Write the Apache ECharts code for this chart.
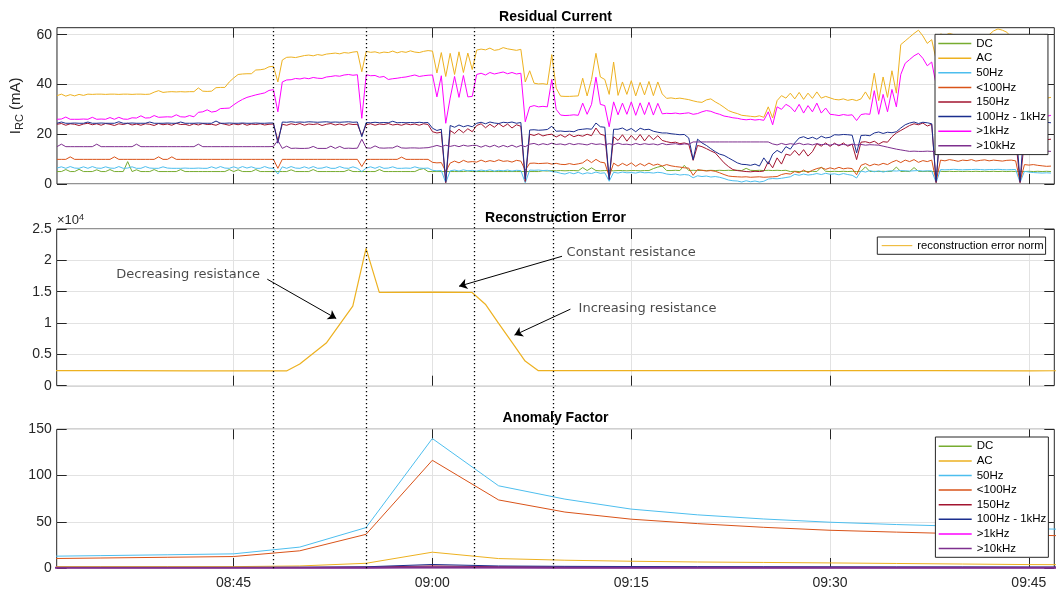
<!DOCTYPE html>
<html>
<head>
<meta charset="utf-8">
<title>Residual Current / Reconstruction Error / Anomaly Factor</title>
<script src="https://cdn.jsdelivr.net/npm/echarts@6.0.0/dist/echarts.min.js"></script>
<style>
  html, body { margin: 0; padding: 0; background: #fff; }
  #chart { width: 1062px; height: 590px; }
</style>
</head>
<body>
<div id="chart"></div>
<script>
// ---------------------------------------------------------------------------
// Data
// ---------------------------------------------------------------------------
const T_START = '08:31:40';          // visible time range
const T_END = '09:46:55';
const RC_START = '08:31:40';         // residual current logger: one sample every 20 s
const RC_STEP_S = 20;

const xTickTimes = ['08:45', '09:00', '09:15', '09:30', '09:45'];
const rcTicks = [0, 20, 40, 60];
const errTicks = [0, 5000, 10000, 15000, 20000, 25000];
const afTicks = [0, 50, 100, 150];

// moments marked by the dotted vertical lines
const eventTimes = ['08:48:00', '08:55:00', '09:03:10', '09:09:08'];

// Residual current per band (mA)
const rcDC = [
  5.0, 5.0, 5.8, 5.0, 5.0, 5.9, 5.0, 5.0, 5.0, 5.7,
  5.0, 5.0, 5.8, 5.0, 5.0, 5.0, 9.0, 5.0, 5.7, 5.0,
  5.0, 5.0, 5.8, 5.0, 5.0, 5.0, 5.0, 5.0, 5.8, 5.0,
  5.0, 5.0, 5.0, 5.0, 5.0, 5.0, 5.0, 5.0, 5.0, 5.8,
  5.0, 5.7, 5.0, 5.0, 5.0, 5.8, 5.0, 5.0, 5.0, 5.0,
  5.0, 5.0, 5.0, 5.7, 5.0, 5.0, 5.0, 5.0, 5.8, 5.0,
  5.0, 5.0, 5.0, 5.0, 5.0, 5.0, 5.7, 5.0, 5.0, 5.0,
  5.0, 5.0, 5.0, 5.8, 5.0, 5.0, 5.0, 5.0, 5.0, 5.0,
  5.0, 5.0, 5.8, 6.2, 5.0, 5.0, 5.0, 5.0, 5.0, 5.0,
  5.0, 5.0, 5.0, 5.2, 5.0, 5.0, 5.0, 5.0, 5.0, 5.0,
  5.0, 5.0, 5.0, 5.0, 5.0, 5.0, 5.0, 5.0, 5.0, 5.0,
  5.3, 5.2, 5.4, 5.3, 5.4, 5.3, 5.4, 5.4, 5.3, 6.6,
  5.4, 6.5, 5.4, 5.3, 5.4, 5.4, 5.3, 5.4, 5.4, 5.3,
  5.4, 5.4, 5.3, 5.4, 5.4, 6.2, 6.8, 7.2, 5.4, 5.4,
  5.5, 5.4, 7.5, 5.4, 5.5, 5.4, 5.5, 5.4, 5.5, 5.4,
  5.5, 5.4, 5.5, 5.4, 5.5, 5.4, 6.3, 5.5, 5.4, 5.5,
  5.4, 5.5, 5.4, 5.5, 5.4, 5.5, 5.0, 5.1, 5.0, 5.1,
  5.0, 5.1, 5.0, 6.8, 5.1, 5.0, 5.1, 5.0, 5.1, 5.0,
  5.1, 5.0, 5.1, 6.9, 5.0, 5.1, 5.0, 5.1, 5.0, 5.1,
  6.8, 5.0, 5.1, 5.0, 6.6, 5.1, 5.0, 5.1, 5.0, 5.1,
  5.1, 5.0, 5.1, 5.0, 5.1, 5.0, 5.1, 5.0, 5.1, 5.0,
  5.1, 5.0, 5.1, 5.0, 5.1, 5.0, 5.1, 5.0, 5.1, 5.0,
  5.1, 5.0, 5.1, 5.0, 5.1, 5.0
];
const rcAC = [
  35.5, 36.1, 35.3, 35.9, 35.4, 36.0, 35.6, 36.1,
  36.0, 36.1, 36.1, 36.0, 36.1, 36.1, 36.0, 36.1, 36.1, 36.0, 36.1, 36.1, 36.0, 36.1,
  36.9, 37.5, 36.8,
  37.0, 37.1, 37.0, 37.1, 37.0, 37.1, 37.1,
  38.6,
  37.3, 37.2, 37.3,
  38.7, 38.8, 38.8,
  41.0, 42.6,
  44.0, 44.2, 44.3, 44.3,
  45.8, 45.9, 46.2,
  47.1, 47.3,
  41.0,
  49.8,
  50.9, 51.0, 50.8, 51.2,
  51.6, 51.8, 51.5, 52.0, 51.7, 52.2,
  52.4, 52.6, 52.3, 52.8, 52.6, 53.0, 53.2,
  45.1,
  53.3, 52.9, 53.1, 52.6, 53.0, 52.8, 53.4, 52.7, 53.2, 52.9, 53.5, 53.0, 52.8, 53.3, 53.6,
  53.4, 44.6, 52.8, 43.2, 52.5, 44.0, 53.1, 44.8, 52.6,
  46.0,
  53.8, 54.2, 53.9, 54.6, 53.7, 54.0, 54.8, 54.3, 54.0, 53.7, 54.1,
  41.0, 45.5, 40.5, 40.2, 40.3, 40.0,
  52.0, 38.5, 35.3, 35.2, 35.2, 35.3, 35.4,
  42.5, 35.4, 42.0,
  52.5, 43.0, 42.0, 36.0, 49.0,
  35.6, 41.0, 36.0, 41.5, 35.4, 40.8, 35.8, 41.2, 35.5, 41.0, 36.2,
  34.4, 34.6, 34.3, 34.5, 34.2,
  33.9, 33.4, 33.0,
  32.8, 33.8, 34.2, 33.0, 32.0,
  30.8, 29.5, 28.8, 28.3, 27.6,
  27.4, 27.2, 27.0, 27.4, 26.8,
  31.0, 26.5, 33.5, 35.5,
  34.5, 36.5,
  34.2, 36.8, 34.0, 36.5, 34.4, 37.0, 34.5, 35.2, 34.6,
  34.0, 33.8, 34.2, 33.6, 34.0, 33.5, 34.2, 37.0,
  34.0,
  44.5, 33.5, 43.0, 34.8, 45.5, 36.5,
  56.0,
  57.5, 59.0, 60.5, 61.8, 59.5, 56.5, 58.0,
  50.0,
  60.3, 59.8, 60.5, 60.0, 59.5, 58.5,
  57.0, 58.5, 57.5, 59.0, 58.0, 60.0,
  61.5, 62.3, 61.8, 61.0,
  59.0, 58.5, 50.0, 57.5, 56.0, 48.0, 40.0,
  35.0, 34.5, 34.8
];
const rc50Hz = [
  6.4, 6.9, 6.3, 7.0, 6.4, 6.3, 6.9, 6.3, 7.0, 6.4,
  6.3, 6.9, 6.4, 6.3, 7.0, 6.3, 6.4, 6.9, 6.3, 6.3,
  7.0, 6.4, 6.3, 6.3, 6.9, 6.4, 6.3, 6.3, 6.3, 6.4,
  6.3, 6.3, 6.4, 6.3, 6.3, 6.9, 6.3, 7.0, 6.4, 6.3,
  6.9, 6.3, 7.0, 6.4, 6.9, 6.3, 6.3, 7.0, 6.4, 6.3,
  4.0,
  6.9, 6.3, 7.0, 6.4, 6.3, 6.9, 6.3, 7.0, 6.3, 6.4, 6.9, 6.3, 6.3, 7.0, 6.4, 6.3, 6.9, 6.3,
  5.0,
  6.4, 6.9, 6.3, 7.0, 6.3, 6.4, 6.9, 6.3, 6.3, 6.4, 6.3, 6.9, 6.4, 6.3, 6.4,
  5.5, 5.3, 5.4,
  0.5,
  5.3, 5.6, 5.2, 5.7, 5.3, 5.5, 5.2, 5.6, 5.3, 5.7, 5.2, 5.5, 5.3, 5.6, 5.2, 5.5, 5.4,
  0.5,
  5.6, 5.5, 5.6, 5.4, 5.5,
  5.0, 4.8, 4.3, 4.0, 4.6, 4.1, 4.7, 4.0, 4.5, 4.2, 4.8, 4.3, 4.5,
  1.1,
  4.7, 4.4, 4.8, 4.5, 4.6, 4.4, 4.8, 4.5, 4.6, 4.4, 4.7, 4.5,
  4.0, 3.8, 4.0, 3.6, 3.8, 3.6,
  2.5,
  3.3, 3.0, 3.2, 2.8, 3.0, 2.7,
  2.2, 1.6, 1.3,
  1.2, 0.8, 1.3, 0.9, 1.2, 0.8, 1.1,
  2.0, 2.2, 2.1, 2.3,
  2.6, 2.9,
  3.9, 3.5, 4.0, 3.6, 3.8, 4.2, 3.8, 4.3, 3.9,
  4.1, 3.7, 4.2, 3.8, 3.5,
  2.4,
  5.2, 4.8, 5.4, 4.9, 5.3, 4.8, 5.2,
  5.3, 5.2, 5.4, 5.3, 5.2, 5.3, 5.4, 5.2, 5.3, 5.3,
  0.6,
  5.8, 5.7, 5.8, 5.9, 5.8, 5.7, 5.8, 5.8, 5.9, 5.8, 5.7, 5.8, 5.8, 5.9, 5.8, 5.7, 5.8, 5.8,
  0.6,
  5.1, 4.8, 4.6, 4.5, 4.4, 4.5, 4.4
];
const rcBelow100Hz = [
  9.9, 9.9, 9.9, 10.9, 9.9, 9.9, 9.9, 9.9, 9.9, 9.9,
  9.9, 9.9, 9.9, 10.9, 9.9, 9.9, 9.9, 9.9, 9.9, 9.9,
  9.9, 9.9, 9.9, 10.9, 9.9, 9.9, 10.9, 9.9, 9.9, 9.9,
  9.9, 9.9, 9.9, 9.9, 9.9, 9.9, 9.9, 9.9, 9.9, 9.9,
  9.9, 9.9, 9.9, 9.9, 9.9, 9.9, 9.9, 9.9, 9.9, 9.9,
  6.3,
  9.9, 9.9, 9.9, 9.9, 9.9, 9.9, 9.9, 9.9, 9.9, 9.9, 9.9, 9.9, 9.9, 9.9, 9.9, 9.9, 9.9, 9.9,
  7.0,
  9.9, 9.9, 9.9, 9.9, 9.9, 9.9, 9.9, 9.9, 10.8, 9.9, 9.9, 9.9, 9.9, 9.9, 9.9,
  8.7, 8.5, 8.6,
  5.0,
  8.4, 9.2, 8.5, 9.5, 8.8, 9.0,
  8.8, 9.6, 8.9, 9.4, 9.0, 9.7, 9.1, 9.3, 8.8, 9.5, 9.2,
  5.5,
  8.3, 8.4, 8.2, 8.3, 8.4,
  8.0, 8.3, 7.9, 7.8, 8.2, 7.8, 8.1,
  8.5, 9.8, 8.6, 9.9, 8.8, 8.5,
  3.0,
  8.4, 7.2, 8.3, 7.4, 8.5, 7.1, 8.2, 7.3, 8.4, 7.5, 8.0, 7.2,
  7.8, 7.3, 7.0, 6.8, 6.5, 6.4,
  3.5,
  5.8, 5.5, 5.2, 5.4, 5.1, 4.5,
  3.8, 3.2, 3.0,
  2.9, 2.8, 2.9, 2.7, 2.8, 2.9, 2.7, 2.8, 2.9, 3.0,
  3.8, 4.2, 4.0,
  5.0, 4.5, 5.6, 4.6, 5.5,
  6.2, 6.6, 5.9, 6.5, 6.0, 6.7, 6.1, 6.4, 6.2,
  3.7,
  7.5, 8.2, 7.3, 8.0, 7.6, 8.3, 7.8,
  8.8, 9.5, 8.6, 9.6, 9.0, 9.8, 8.7, 9.4, 9.0, 9.6,
  1.0,
  9.6, 9.3, 9.8, 9.5, 9.1, 9.6, 9.4, 9.8, 9.2, 9.5, 9.7, 9.3, 9.6, 9.4, 9.2, 9.5, 9.6, 9.3,
  1.0,
  7.8, 7.6, 7.8, 7.5, 7.3, 7.1, 7.2
];
const rc150Hz = [
  24.0, 24.3, 23.6, 24.2, 24.0, 23.5, 24.1, 24.4, 23.8, 24.2,
  23.6, 24.3, 24.0, 23.5, 24.2, 23.9, 24.4, 23.7, 24.1, 23.6,
  24.2, 24.0, 23.5, 24.3, 23.8, 24.1, 23.6, 24.4, 23.9, 24.0,
  23.5, 24.2, 23.7, 24.3, 23.9, 24.0, 23.6, 24.4, 24.0, 23.6,
  24.2, 23.8, 24.3, 23.6, 24.1, 23.9, 24.2, 23.7, 24.0, 24.1,
  17.5,
  24.0, 23.6, 24.2, 23.8, 24.3, 23.6, 24.1, 23.9, 24.2, 23.5, 24.0, 24.3, 23.7, 24.1, 23.6, 24.2, 23.9, 24.0,
  19.5,
  23.8, 24.2, 23.6, 24.1, 23.9, 24.3, 23.7, 24.0, 23.6, 24.2, 23.8, 24.1, 23.6, 24.2, 23.9,
  21.0, 20.5, 20.8,
  0.5,
  21.5, 20.3, 22.0, 20.6, 22.2, 21.0,
  23.5, 24.2, 22.6, 24.0, 22.8, 24.3, 23.0, 24.1, 22.5, 23.8, 23.2,
  1.0,
  20.0, 19.5, 20.2, 19.3, 19.8,
  20.0, 18.9, 19.8, 18.8, 20.0, 19.0, 19.6,
  19.2, 20.0, 19.4,
  22.5, 20.0, 19.5, 2.0, 19.0,
  17.5, 19.8, 17.2, 19.5, 17.6, 19.9, 17.3, 19.6, 17.8, 19.4, 17.5,
  17.0, 16.6, 16.8, 16.2, 16.5,
  16.0, 9.5, 15.5, 15.0, 14.2, 13.3,
  12.5, 10.5, 8.5, 7.0,
  5.8, 5.4, 5.2, 5.0, 4.9, 5.1, 5.0, 5.2,
  9.0, 6.5, 10.5, 8.0,
  12.0, 11.5,
  13.5, 11.5, 13.8, 11.2, 13.0,
  16.2, 15.2, 16.5, 15.1, 16.4, 15.3, 16.5, 15.2, 16.0,
  9.8,
  16.8, 17.0, 16.5, 17.2, 16.0, 17.0, 16.8,
  19.0, 20.5, 21.5, 22.5,
  23.5, 24.2, 23.8, 24.5, 23.3, 24.0,
  0.5,
  23.5, 24.0, 23.6, 23.8, 24.1, 23.4, 23.0, 22.5, 22.0, 21.0, 20.5, 20.0, 19.5, 19.0, 18.5, 18.2, 18.0, 18.3,
  0.5,
  17.8, 18.0, 17.7, 18.2, 17.9, 17.8, 18.0
];
const rc100Hzto1kHz = [
  24.4, 24.9, 24.4, 24.4, 24.5, 24.4, 24.4, 24.9, 24.4, 24.4,
  24.5, 24.4, 24.4, 24.4, 25.0, 24.4, 24.4, 24.5, 24.4, 24.4,
  24.4, 24.9, 24.4, 24.4, 24.4, 24.5, 24.4, 24.4, 24.9, 24.4,
  24.4, 24.4, 24.5, 24.4, 24.4, 24.4, 25.3, 24.4, 24.4, 24.5,
  24.4, 24.4, 24.5, 24.4, 24.4, 24.5, 24.4, 24.4, 24.5, 24.5,
  16.4,
  24.9, 24.8, 25.0, 24.8, 24.9, 24.8, 25.0, 24.9, 24.8, 24.9, 25.0, 24.8, 24.9, 24.8, 24.9, 25.0, 24.8, 24.9,
  19.0,
  24.7, 24.6, 24.8, 24.6, 24.7, 24.6, 25.2, 24.6, 24.7, 24.6, 24.7, 24.6, 24.8, 24.6, 24.7,
  22.4, 21.5, 22.0,
  1.0,
  23.5, 22.8, 23.7, 23.0, 23.5, 23.0,
  24.4, 24.8, 24.2, 24.9, 24.5, 24.3, 24.8, 24.6, 24.9, 24.4, 24.7,
  2.0,
  21.7, 21.8, 21.6, 21.7, 21.9,
  23.2, 21.2, 21.3, 21.1, 21.2, 21.0,
  21.8, 22.0, 22.2, 22.0,
  24.5, 23.0, 22.8, 1.7, 22.0,
  22.0, 22.5, 21.5, 22.3, 21.0, 22.4, 21.8, 22.0, 21.2, 20.8, 20.5,
  20.5, 20.2, 20.0, 19.8, 19.9,
  18.5, 9.8, 18.0, 16.5,
  15.5, 14.2, 13.0, 12.0,
  11.5, 10.5, 9.5, 8.5, 7.9,
  7.8, 7.5, 8.0, 7.2,
  10.5, 8.0, 12.0, 13.5, 12.5,
  15.0, 14.0,
  16.5, 18.5, 19.0, 18.2, 18.8, 18.0, 19.2, 18.5, 18.8,
  19.8, 19.7, 19.9, 19.8, 19.6,
  12.5,
  19.5, 19.6, 19.4,
  20.5, 20.9, 20.3, 20.8, 20.6, 21.0,
  22.5, 23.8,
  24.5, 24.9, 24.3, 24.8, 24.6, 24.2,
  1.0,
  24.6, 24.8, 24.5, 24.9, 24.7, 24.5, 24.8, 24.6, 25.0, 24.7, 24.5, 24.9, 24.6, 24.8, 24.5, 24.7, 24.9, 24.6,
  1.0,
  24.5, 24.8, 24.6, 24.9, 24.7, 24.8, 24.6
];
const rcAbove1kHz = [
  26.0, 26.1, 26.9, 26.0, 26.0, 26.0, 26.1, 26.0, 26.8, 26.0, 26.1, 26.0, 26.7, 26.0, 26.8, 26.1, 26.0,
  26.6, 26.5, 27.4, 26.5, 26.6, 27.5,
  26.8, 26.9, 27.0, 26.9, 27.8, 27.0, 26.9, 27.5, 27.0,
  28.8, 29.0, 29.8, 28.9, 29.2,
  30.3, 30.4, 30.5,
  31.8, 33.0, 34.0,
  34.8, 35.3, 35.8, 36.2, 36.6,
  37.6, 37.9,
  29.0,
  41.0, 41.8, 41.9,
  42.4, 42.2, 42.6, 42.3, 42.8, 42.5, 42.4,
  43.0, 43.2, 43.5, 43.3, 43.8, 44.0, 43.7, 43.9,
  26.4,
  43.9, 43.5, 43.6, 42.9, 43.2, 42.0, 42.3, 42.5, 42.8, 43.0, 43.4, 43.8, 43.2, 43.5, 43.7,
  43.8, 35.0, 43.5, 24.4, 34.5, 43.2, 34.8, 43.6, 35.0,
  35.2,
  44.0, 44.5, 43.8, 44.8, 44.2, 44.6, 45.0, 44.3, 44.8, 44.2, 44.5,
  25.0,
  31.0, 31.5, 31.0, 31.2, 31.0,
  42.0, 30.0,
  27.7, 27.5, 27.6, 27.8, 27.6,
  32.5, 28.0, 32.0,
  42.9, 32.0, 31.5, 23.0, 33.0,
  27.8, 32.5, 28.0, 33.0, 27.6, 32.6, 27.9, 32.8, 27.7, 32.4, 28.2,
  28.4, 28.3, 28.5, 28.2, 28.4,
  28.6, 28.0, 28.3, 29.0, 29.5, 29.2, 28.5, 28.0,
  27.3, 27.0, 26.6, 26.4, 26.0, 25.8, 26.0, 25.7, 25.9, 25.6,
  29.0, 23.8, 31.0, 30.0, 32.0, 31.0,
  29.0, 32.0, 28.5, 31.5, 29.0, 32.5, 28.5, 30.5, 28.0,
  27.8, 27.5, 27.9, 27.6, 27.8, 25.5, 27.9, 28.2,
  28.0,
  37.5, 28.0, 36.0, 29.0, 38.0, 31.0,
  44.0,
  48.5, 50.0, 51.5, 52.5, 50.5, 47.5, 49.0,
  40.0, 49.0, 50.5, 49.5, 48.0, 49.0, 47.5, 46.5, 48.0, 47.0, 48.5, 47.5,
  49.0, 50.0, 51.0, 50.5, 49.5, 48.0, 47.5, 40.0, 46.0, 45.0, 38.0, 32.0,
  27.5, 27.2, 27.6
];
const rcAbove10kHz = [
  15.0, 16.0, 15.0, 15.0, 15.0, 15.0, 15.0, 15.0, 15.0, 16.0,
  15.0, 15.0, 15.0, 15.0, 15.0, 15.0, 15.0, 15.0, 16.0, 15.0,
  15.0, 15.0, 15.0, 15.0, 15.0, 15.0, 15.0, 15.0, 15.0, 15.0,
  15.0, 15.0, 16.0, 15.0, 15.0, 15.0, 15.0, 15.0, 15.0, 15.0,
  15.0, 15.0, 15.0, 15.0, 15.0, 15.0, 15.0, 15.0, 15.0, 15.1,
  17.5,
  14.3, 15.2, 14.3, 14.4, 14.3, 14.3, 14.4, 15.1, 14.3, 14.3, 14.3, 15.2, 14.3, 15.1, 14.3, 14.4, 14.3, 14.4,
  18.0,
  14.5, 14.4, 15.3, 14.5, 14.4, 14.5, 14.5, 15.3, 14.5, 14.4, 14.5, 14.5, 14.4, 14.5, 14.6,
  15.0, 15.5, 15.0, 15.6, 15.1, 15.5, 15.0, 15.6, 15.2, 15.5,
  15.5, 14.8, 15.5, 14.9, 15.6, 14.8, 15.5, 14.9, 15.6, 14.8, 15.5,
  15.0,
  16.0, 16.3, 15.7, 16.2, 15.8, 16.4, 15.9, 16.1, 15.7, 16.3,
  15.8, 16.2, 16.0, 15.7, 16.3, 15.9, 16.1, 15.7, 16.2, 15.8,
  16.4, 15.9, 16.0, 15.7, 16.3, 15.8, 16.2, 15.9, 16.1, 15.7,
  16.3, 15.8, 16.0, 16.2, 15.8, 16.1, 16.0,
  16.9, 16.9, 16.9, 16.9, 16.9, 16.9, 16.9, 16.9, 16.9,
  16.9, 16.9, 16.9, 16.9, 16.9, 16.9, 16.9, 16.9, 16.9,
  16.1, 15.7, 16.3, 15.8, 16.2, 15.9, 16.4, 15.8, 16.1, 15.7,
  16.2, 15.8, 16.0, 15.6, 16.1, 15.7, 15.9, 15.6, 16.0, 15.7,
  15.9, 15.6, 15.8, 15.7, 15.6,
  15.2, 14.8, 14.4, 14.0, 13.7, 13.4,
  13.1, 13.2, 13.1, 13.1, 13.2, 13.1, 13.1, 13.2, 13.1, 13.1, 13.2,
  13.1, 13.1, 13.2, 13.1, 13.1, 13.2, 13.1, 13.1, 13.2, 13.1, 13.1,
  13.2, 13.1, 13.1, 13.2, 13.1, 13.1, 13.2, 13.1, 13.1, 13.2, 13.1
];

// Reconstruction error norm
const errTimes = ['08:30', '08:36', '08:42', '08:47', '08:49', '08:50', '08:52', '08:54', '08:55', '08:56',
                  '09:00', '09:03', '09:04', '09:05', '09:06', '09:07', '09:08', '09:15', '09:22', '09:30',
                  '09:38', '09:45', '09:50'];
const errNorm = [2400, 2390, 2370, 2360, 2350, 3450, 6800, 12700, 21900, 14900,
                 14930, 14880, 13000, 9950, 6950, 3930, 2390, 2390, 2420, 2410,
                 2390, 2380, 2390];

// Anomaly factor per band
const afTimes = ['08:30', '08:35', '08:40', '08:45', '08:50', '08:55', '09:00', '09:05', '09:10',
                 '09:15', '09:20', '09:25', '09:30', '09:35', '09:40', '09:45', '09:50'];
const afDC =          [0.3, 0.3, 0.3, 0.3, 0.4, 0.5, 0.9, 0.6, 0.5, 0.5, 0.4, 0.4, 0.4, 0.4, 0.3, 0.3, 0.3];
const afAC =          [1.5, 1.5, 1.5, 1.5, 2.2, 5.1, 17.1, 10.2, 8.4, 7.3, 6.5, 6.0, 5.5, 4.9, 4.3, 3.7, 3.5];
const af50Hz =        [12.5, 13.4, 14.3, 15.3, 22.6, 43.7, 140.0, 88.9, 74.5, 63.7, 57.5, 53.0, 49.5, 47.0, 45.0, 42.6, 41.2];
const afBelow100Hz =  [10.0, 10.8, 11.6, 12.4, 18.6, 36.4, 116.5, 73.6, 60.5, 52.8, 48.0, 44.0, 40.8, 38.8, 37.0, 35.5, 34.3];
const af150Hz =       [0.5, 0.5, 0.5, 0.5, 0.6, 1.0, 2.2, 1.4, 1.1, 1.0, 0.9, 0.8, 0.8, 0.7, 0.7, 0.6, 0.6];
const af100Hzto1kHz = [0.6, 0.6, 0.6, 0.6, 0.8, 1.3, 3.8, 2.2, 1.8, 1.6, 1.5, 1.4, 1.3, 1.2, 1.2, 1.1, 1.1];
const afAbove1kHz =   [0.2, 0.2, 0.2, 0.2, 0.2, 0.3, 0.5, 0.3, 0.3, 0.2, 0.2, 0.2, 0.2, 0.2, 0.2, 0.2, 0.2];
const afAbove10kHz =  [0.3, 0.3, 0.3, 0.3, 0.3, 0.4, 0.8, 0.5, 0.4, 0.4, 0.3, 0.3, 0.3, 0.3, 0.3, 0.3, 0.3];

// Annotations on the reconstruction error panel: text anchor, arrow tail, arrow head
const noteTexts = ['Decreasing resistance', 'Constant resistance', 'Increasing resistance'];
const noteAnchors = [['08:41:35', 17780], ['09:15:00', 21230], ['09:16:14', 12310]];
const noteArrowFrom = [['08:47:33', 16990], ['09:09:47', 20650], ['09:10:25', 12210]];
const noteArrowTo = [['08:52:45', 10720], ['09:02:01', 15870], ['09:06:12', 8070]];

// ---------------------------------------------------------------------------
// Helpers and styling
// ---------------------------------------------------------------------------
function sec(hms) {
  const p = hms.split(':').map(Number);
  return p[0] * 3600 + p[1] * 60 + (p[2] || 0);
}
function hhmm(v) {
  const m = Math.round(v / 60);
  const h = Math.floor(m / 60), mm = m % 60;
  return String(h).padStart(2, '0') + ':' + String(mm).padStart(2, '0');
}

const BAND_NAMES = ['DC', 'AC', '50Hz', '<100Hz', '150Hz', '100Hz - 1kHz', '>1kHz', '>10kHz'];
const BAND_COLORS = ['#77AC30', '#EDB120', '#4DBEEE', '#D95319', '#A2142F', '#1B2E8E', '#FF00FF', '#7E2F8E'];
const FONT = "'Liberation Sans', Arial, Helvetica, sans-serif";
const AXIS = '#262626';
const GRIDC = '#e2e2e2';
const TXT = '#262626';

const T_MIN = sec(T_START), T_MAX = sec(T_END);
const xTickVals = xTickTimes.map(sec);

const LEFT = 56.7, RIGHT = 7.7;
const PANELS = [
  { top: 27.7, height: 156.3 },
  { top: 229.0, height: 156.7 },
  { top: 429.3, height: 139.0 }
];

const grids = PANELS.map(p => ({
  left: LEFT, right: RIGHT, top: p.top, height: p.height,
  show: true, borderColor: AXIS, borderWidth: 1, backgroundColor: 'transparent'
}));
// overlay spanning all three panels for the event markers
grids.push({ left: LEFT, right: RIGHT, top: PANELS[0].top, height: PANELS[2].top + PANELS[2].height - PANELS[0].top, show: false });

function timeAxis(gi, pos, labels) {
  return {
    type: 'value', gridIndex: gi, position: pos, min: T_MIN, max: T_MAX,
    axisLine: { show: false, onZero: false },
    axisTick: { show: true, inside: true, length: 10, customValues: xTickVals, lineStyle: { color: AXIS, width: 1 } },
    axisLabel: { show: labels, customValues: xTickVals, formatter: hhmm, color: TXT, fontSize: 14, fontFamily: FONT, margin: 8 },
    splitLine: { show: pos === 'bottom', lineStyle: { color: GRIDC, width: 1 } }
  };
}
function valueAxis(gi, pos, min, max, ticks, fmt, extra) {
  return Object.assign({
    type: 'value', gridIndex: gi, position: pos, min: min, max: max,
    axisLine: { show: false, onZero: false },
    axisTick: { show: true, inside: true, length: 10, customValues: ticks, lineStyle: { color: AXIS, width: 1 } },
    axisLabel: { show: pos === 'left', customValues: ticks, formatter: fmt, color: TXT, fontSize: 14, fontFamily: FONT, margin: 5 },
    splitLine: { show: pos === 'left', lineStyle: { color: GRIDC, width: 1 } }
  }, extra || {});
}

const xAxes = [
  timeAxis(0, 'bottom', false), timeAxis(0, 'top', false),
  timeAxis(1, 'bottom', false), timeAxis(1, 'top', false),
  timeAxis(2, 'bottom', true), timeAxis(2, 'top', false),
  { type: 'value', gridIndex: 3, min: T_MIN, max: T_MAX, show: false }
];
const yAxes = [
  valueAxis(0, 'left', 0, 62.8, rcTicks, v => String(v), {
    name: '{i|I}{s|RC}{u| (mA)}', nameLocation: 'middle', nameGap: 26, nameRotate: 90,
    nameTextStyle: {
      color: TXT, fontFamily: FONT,
      rich: {
        i: { fontSize: 15, fontFamily: FONT, color: TXT, lineHeight: 20 },
        s: { fontSize: 11, fontFamily: FONT, color: TXT, lineHeight: 11, verticalAlign: 'bottom' },
        u: { fontSize: 15, fontFamily: FONT, color: TXT, lineHeight: 20 }
      }
    }
  }),
  valueAxis(0, 'right', 0, 62.8, rcTicks, v => String(v)),
  valueAxis(1, 'left', 0, 25000, errTicks, v => String(v / 10000)),
  valueAxis(1, 'right', 0, 25000, errTicks, v => String(v / 10000)),
  valueAxis(2, 'left', 0, 150, afTicks, v => String(v)),
  valueAxis(2, 'right', 0, 150, afTicks, v => String(v)),
  { type: 'value', gridIndex: 3, min: 0, max: 1, show: false }
];

// ---------------------------------------------------------------------------
// Series
// ---------------------------------------------------------------------------
const series = [];
const rcBands = [rcDC, rcAC, rc50Hz, rcBelow100Hz, rc150Hz, rc100Hzto1kHz, rcAbove1kHz, rcAbove10kHz];
const rcT0 = sec(RC_START);
rcBands.forEach((vals, k) => {
  series.push({
    type: 'line', name: BAND_NAMES[k], xAxisIndex: 0, yAxisIndex: 0,
    data: vals.map((v, i) => [rcT0 + i * RC_STEP_S, v]),
    symbol: 'none', showSymbol: false, color: BAND_COLORS[k],
    lineStyle: { width: 1, color: BAND_COLORS[k] },
    emphasis: { disabled: true }, animation: false
  });
});

series.push({
  type: 'line', name: 'reconstruction error norm', xAxisIndex: 2, yAxisIndex: 2,
  data: errTimes.map((t, i) => [sec(t), errNorm[i]]),
  symbol: 'none', showSymbol: false, color: '#EDB120',
  lineStyle: { width: 1.2, color: '#EDB120' },
  emphasis: { disabled: true }, animation: false,
  markLine: {
    silent: true, animation: false,
    symbol: ['none', 'arrow'], symbolSize: 8,
    lineStyle: { type: 'solid', color: '#000', width: 1 },
    label: { show: false },
    emphasis: { disabled: true },
    data: noteArrowFrom.map((f, i) => [
      { coord: [sec(f[0]), f[1]] },
      { coord: [sec(noteArrowTo[i][0]), noteArrowTo[i][1]] }
    ])
  }
});
series.push({
  type: 'scatter', name: 'notes', xAxisIndex: 2, yAxisIndex: 2,
  symbolSize: 1, itemStyle: { color: 'rgba(0,0,0,0)' }, silent: true, animation: false,
  data: noteTexts.map((txt, i) => ({ name: txt, value: [sec(noteAnchors[i][0]), noteAnchors[i][1]] })),
  label: {
    show: true, position: 'inside', formatter: '{b}',
    fontFamily: "'DejaVu Sans', Verdana, sans-serif", fontSize: 13, color: '#1a1a1a'
  }
});

const afBands = [afDC, afAC, af50Hz, afBelow100Hz, af150Hz, af100Hzto1kHz, afAbove1kHz, afAbove10kHz];
afBands.forEach((vals, k) => {
  series.push({
    type: 'line', name: BAND_NAMES[k], xAxisIndex: 4, yAxisIndex: 4,
    data: afTimes.map((t, i) => [sec(t), vals[i]]),
    symbol: 'none', showSymbol: false, color: BAND_COLORS[k],
    lineStyle: { width: k === 7 ? 2 : 1, color: BAND_COLORS[k] },
    emphasis: { disabled: true }, animation: false
  });
});

series.push({
  type: 'lines', coordinateSystem: 'cartesian2d', xAxisIndex: 6, yAxisIndex: 6,
  silent: true, animation: false, z: 10,
  lineStyle: { color: '#000', width: 1.3, type: [1.3, 2.7], opacity: 1 },
  data: eventTimes.map(t => ({ coords: [[sec(t), 0], [sec(t), 1]] }))
});

// ---------------------------------------------------------------------------
// Legends and titles
// ---------------------------------------------------------------------------
function bandLegend(left, top) {
  return {
    data: BAND_NAMES, orient: 'vertical', left: left, top: top,
    icon: 'rect', itemWidth: 33, itemHeight: 1.5, itemGap: 0,
    padding: [2, 2, 1.5, 3.3],
    backgroundColor: '#fff', borderColor: AXIS, borderWidth: 1, borderRadius: 0,
    selectedMode: false,
    textStyle: { fontFamily: FONT, fontSize: 11.5, color: '#000', lineHeight: 14.6 }
  };
}
const legends = [
  bandLegend(935, 34.3),
  {
    data: ['reconstruction error norm'], orient: 'vertical', left: 877.3, top: 237,
    icon: 'rect', itemWidth: 30.6, itemHeight: 1, itemGap: 0,
    padding: [2, 2, 2, 4.4],
    backgroundColor: '#fff', borderColor: AXIS, borderWidth: 1, borderRadius: 0,
    selectedMode: false,
    textStyle: { fontFamily: FONT, fontSize: 11.25, color: '#000', lineHeight: 13.3 }
  },
  bandLegend(935.4, 437)
];

const titleStyle = { fontFamily: FONT, fontSize: 14, fontWeight: 'bold', color: '#000', lineHeight: 16 };
const titles = [
  { text: 'Residual Current', left: 555.5, top: 8.7, textAlign: 'center', padding: 0, textStyle: titleStyle },
  { text: 'Reconstruction Error', left: 555.5, top: 210, textAlign: 'center', padding: 0, textStyle: titleStyle },
  { text: 'Anomaly Factor', left: 555.5, top: 410.2, textAlign: 'center', padding: 0, textStyle: titleStyle },
  // exponent of the reconstruction error axis
  {
    text: '{a|\u00d710}{b|4}', left: 57, top: 213.5, padding: 0,
    textStyle: {
      fontWeight: 'normal', fontFamily: FONT, color: TXT,
      rich: {
        a: { fontSize: 13, fontFamily: FONT, fontWeight: 'normal', color: TXT, lineHeight: 13 },
        b: { fontSize: 9, fontFamily: FONT, fontWeight: 'normal', color: TXT, lineHeight: 9, verticalAlign: 'top' }
      }
    }
  }
];

const chart = echarts.init(document.getElementById('chart'), null, { renderer: 'canvas', width: 1062, height: 590 });
chart.setOption({
  animation: false,
  backgroundColor: '#fff',
  title: titles,
  legend: legends,
  grid: grids,
  xAxis: xAxes,
  yAxis: yAxes,
  series: series
});
</script>
</body>
</html>
